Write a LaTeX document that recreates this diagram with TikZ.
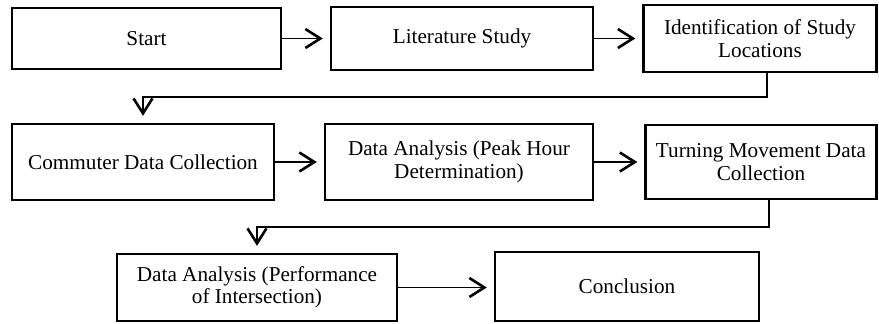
\documentclass[tikz,border=0pt]{standalone}
\usepackage{fontspec}
\newfontfamily\timesfont{Liberation Serif}
\usetikzlibrary{arrows.meta}

\begin{document}
\begin{tikzpicture}[x=1pt, y=-1pt, font=\timesfont\fontsize{21.2}{22.5}\selectfont, box/.style={draw, line width=2.4pt, align=center, inner sep=0pt}, link/.style={line width=1.8pt, -{Straight Barb[length=15pt, width=19pt, line width=2.6pt]}, shorten >=7pt}]
	\useasboundingbox (0,0) rectangle (879,324);
	% first row
	\node[box, minimum width=269pt, minimum height=61pt](start) at (146.5,38.5){Start};
	\node[box, minimum width=262pt, minimum height=63pt](litstudy) at (462,38.5){Literature Study};
	\node[box, minimum width=233pt, minimum height=67pt](ident) at (760,38.5){Identification of Study\\Locations};
	% second row
	\node[box, minimum width=262pt, minimum height=76pt](commuter) at (143,162){Commuter Data Collection};
	\node[box, minimum width=268pt, minimum height=76pt](peakhour) at (459,162){Data Analysis (Peak Hour\\Determination)};
	\node[box, minimum width=231pt, minimum height=74pt](turning) at (761,162){Turning Movement Data\\Collection};
	% third row
	\node[box, minimum width=280pt, minimum height=67pt](perform) at (257,287.5){Data Analysis (Performance\\of Intersection)};
	\node[box, minimum width=264pt, minimum height=69pt](concl) at (627,286.5){Conclusion};
	\coordinate(bend1) at (767,97);
	\coordinate(bend2) at (769,227);
	\draw[link] (start) -- (litstudy);
	\draw[link] (litstudy) -- (ident);
	\draw[link] (ident.south -| bend1) -- (bend1) -| (commuter.north);
	\draw[link] (commuter) -- (peakhour);
	\draw[link] (peakhour) -- (turning);
	\draw[link] (turning.south -| bend2) -- (bend2) -| (perform.north);
	\draw[link] (perform.east) -- (perform.east -| concl.west);
\end{tikzpicture}
\end{document}
